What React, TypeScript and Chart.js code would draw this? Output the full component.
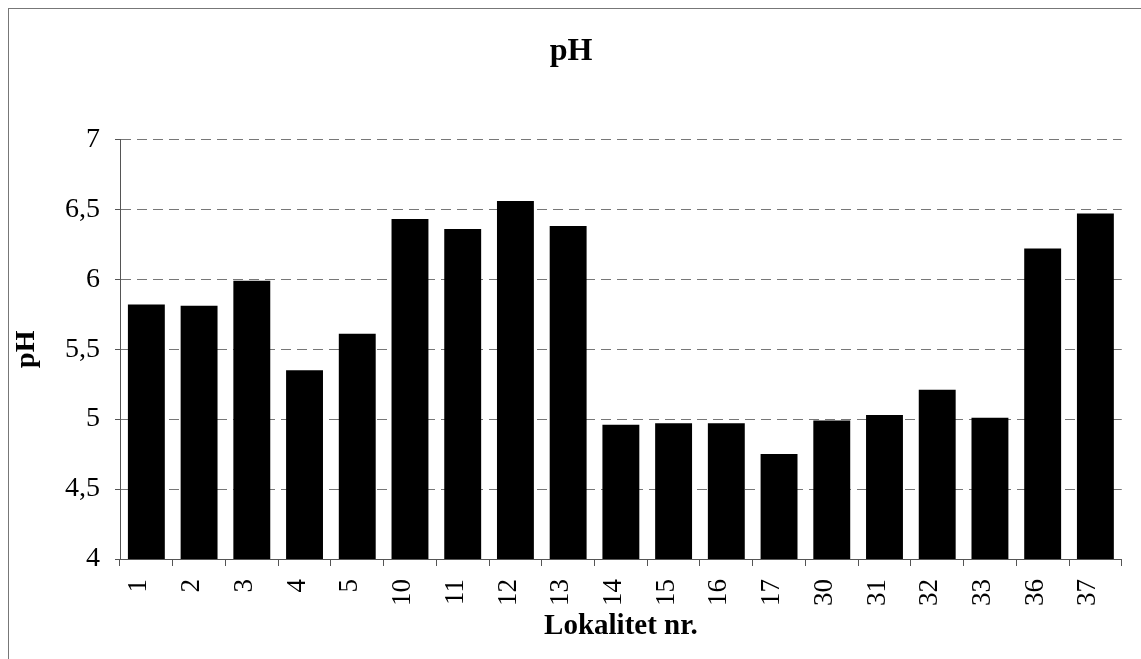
import React, { useEffect, useRef } from "react";
import { Chart, registerables } from "chart.js";

Chart.register(...registerables);

const categories = ["1", "2", "3", "4", "5", "10", "11", "12", "13", "14", "15", "16", "17", "30", "31", "32", "33", "36", "37"];
const phValues = [5.82, 5.81, 5.99, 5.35, 5.61, 6.43, 6.36, 6.56, 6.38, 4.96, 4.97, 4.97, 4.75, 4.99, 5.03, 5.21, 5.01, 6.22, 6.47];
const yMin = 4;
const yMax = 7;
const yStep = 0.5;
const chartTitle = "pH";
const yTitle = "pH";
const xTitle = "Lokalitet nr.";

const SERIF = "'Liberation Serif', 'Times New Roman', Times, serif";

export default function App() {
  const ref = useRef<HTMLCanvasElement | null>(null);

  useEffect(() => {
    if (!ref.current) return;
    const chart = new Chart(ref.current, {
      type: "bar",
      data: {
        labels: categories,
        datasets: [
          {
            label: "pH",
            data: phValues,
            backgroundColor: "#000000",
            borderColor: "#000000",
            borderWidth: 0,
            barPercentage: 0.7,
            categoryPercentage: 1,
          },
        ],
      },
      options: {
        animation: false,
        responsive: false,
        maintainAspectRatio: false,
        layout: { padding: { left: 0, right: 8, top: 0, bottom: 0 } },
        plugins: {
          legend: { display: false },
          tooltip: { enabled: false },
          title: {
            display: true,
            text: chartTitle,
            color: "#000",
            font: { family: SERIF, size: 32, weight: "bold" },
            padding: { top: 24, bottom: 68 },
          },
        },
        scales: {
          x: {
            offset: true,
            grid: {
              display: true,
              offset: true,
              drawOnChartArea: false,
              drawTicks: true,
              tickLength: 7,
              tickColor: "#555",
              tickWidth: 1,
            },
            border: { display: true, color: "#555", width: 1 },
            ticks: {
              color: "#000",
              font: { family: SERIF, size: 27 },
              minRotation: 90,
              maxRotation: 90,
              padding: 13,
              labelOffset: -7,
              autoSkip: false,
            },
            title: {
              display: true,
              text: xTitle,
              color: "#000",
              font: { family: SERIF, size: 29, weight: "bold" },
              padding: { top: 0, bottom: 15 },
            },
            afterFit: (scale: any) => {
              scale.height = 100;
            },
          },
          y: {
            min: yMin,
            max: yMax,
            grid: {
              color: "#777",
              lineWidth: 1,
              drawTicks: true,
              tickLength: 5,
              tickColor: "#555",
              tickBorderDash: [],
            },
            border: { display: true, color: "#555", width: 1, dash: [10, 6] },
            ticks: {
              stepSize: yStep,
              color: "#000",
              font: { family: SERIF, size: 28 },
              padding: 15,
              callback: (v: any) => String(v).replace(".", ","),
            },
            title: {
              display: true,
              text: yTitle,
              color: "#000",
              font: { family: SERIF, size: 28, weight: "bold" },
              padding: { top: 1, bottom: 0 },
            },
            afterFit: (scale: any) => {
              scale.width = 111;
            },
          },
        },
      },
    });
    return () => chart.destroy();
  }, []);

  return (
    <div
      style={{
        position: "fixed",
        left: 8,
        top: 8,
        width: 1133,
        height: 651,
        borderLeft: "1px solid #777",
        borderTop: "1px solid #777",
        background: "#fff",
      }}
    >
      <canvas ref={ref} width={1132} height={650} style={{ display: "block", width: 1132, height: 650 }} />
    </div>
  );
}
